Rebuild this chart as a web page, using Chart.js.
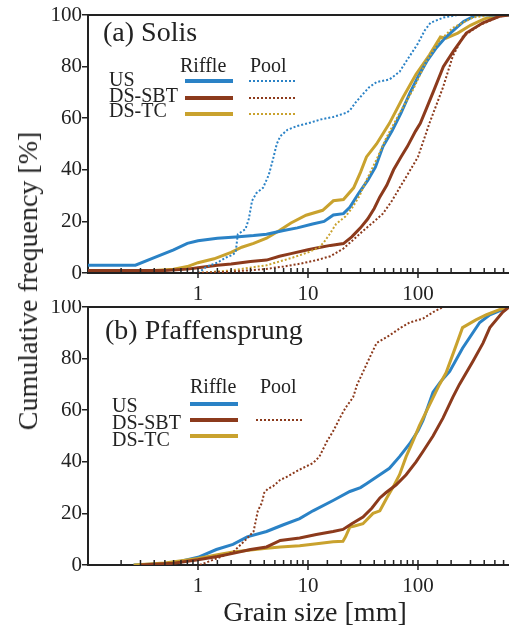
<!DOCTYPE html>
<html><head><meta charset="utf-8">
<script src="https://cdn.jsdelivr.net/npm/chart.js@4"></script>
<style>
html,body{margin:0;padding:0;background:#fff;overflow:hidden}
#wrap{position:relative;width:509px;height:628px}
canvas{position:absolute;left:0}
#ytitle{position:absolute;left:28px;top:281px;font-family:"Liberation Serif",serif;font-size:28px;line-height:1;color:#222;white-space:nowrap;transform:translate(-50%,-50%) rotate(-90deg)}
</style></head><body>
<div id="wrap">
<canvas id="ca" width="509" height="300" style="top:0"></canvas>
<canvas id="cb" width="509" height="328" style="top:300px"></canvas>
<div id="ytitle">Cumulative frequency [%]</div>
</div>
<script>
// ---------- tick labels ----------
const xTickLabels = ['1', '10', '100'];
const yTickLabels = ['0', '20', '40', '60', '80', '100'];
const X_MIN = 0.1, X_MAX = 672;

// ---------- (a) Solis ----------
const solisUSRiffleD = [0.1,0.27,0.4,0.6,0.8,1.0,1.5,2.2,3.2,4.2,6,8,11,14,17,21,24,29,35,41,48,58,70,85,100,120,145,175,210,260,340,672];
const solisUSRiffleP = [3,3,6,9,11.5,12.5,13.5,14,14.5,15,16.5,17.5,19,20,22.5,23,25.5,31,36,41,49,55,62,70,76,82,87,91,94,97.5,100,100];
const solisSBTRiffleD = [0.1,0.5,0.8,1,1.5,2,3,4.2,5.5,7,10,13,16,21,25,30,35,40,45,52,60,70,80,95,105,120,140,170,210,275,390,550,672];
const solisSBTRiffleP = [1,1,1.5,2,3,3.5,4.5,5,6.5,7.5,9,10,10.7,11.4,14,17.5,21,25,29.5,34,40,45,49,55,58,64,71,80,86,93,97,99.5,100];
const solisTCRiffleD = [0.1,0.4,0.6,0.8,1,1.4,2,2.5,3.2,4.2,5.5,7,9.6,13.6,17,21,26,30,34,42,55,73,96,127,160,180,230,300,400,550,672];
const solisTCRiffleP = [1,1,1.5,2.5,4,5.5,8,10,11.5,13.5,16.5,19.4,22.4,24.3,28,28.5,33,39,45,50,58,68,77,84.5,91.5,91,93,96,98.5,100,100];
const solisUSPoolD = [1,1.2,1.5,1.8,2.05,2.2,2.3,2.7,2.9,3.1,3.4,3.9,4.4,4.8,5.2,5.6,6.5,8,10,13,17,22,24,27,31,36,42,55,68,78,90,100,115,130,170,230,672];
const solisUSPoolP = [0,2.5,4,6,7,8,15,17,21,28,31,33,38,44,50,53,55.5,57,58,59.5,60.5,62,63,66,69,72,74,75,78,82,86,89,94,97,99,100,100];
const solisSBTPoolD = [1,2,4,6,8.5,12,16,21,26,32,40,48,58,68,80,100,127,169,207,256,360,550,672];
const solisSBTPoolP = [0,0.5,1.5,2.5,3.6,5,6.5,9.5,13,16.5,20,23,28,33,38,45,58,72,84,91.6,96,99.4,100];
const solisTCPoolD = [1,2,4.2,7.3,10,12.7,14,15.7,18,22,25,29.5,34,42,51,68,90,119,157,207,316,450,672];
const solisTCPoolP = [0,1,3,6,8,10,12,15,19,22,25,30,36,44,52,62,71,82,90,95,99,100,100];

// ---------- (b) Pfaffensprung ----------
const pfaffUSRiffleD = [0.26,0.52,0.7,1,1.47,2.08,2.8,4.2,5.9,8.4,11.1,16.9,24,30,34,45,55,68,84,100,111,127,137,160,194,254,364,450,672];
const pfaffUSRiffleP = [0,0.6,1.5,3,6,8,10.9,13,15.5,18,21,25,28.5,30,31.5,35,37.5,42,47,52,56,63,67,71,75,84,94,97,100];
const pfaffSBTRiffleD = [0.3,0.6,1,1.5,2.08,3,4.2,5.6,8.4,11.9,16.9,20.8,25,31.6,38,45,51,63,78,96,111,137,169,207,238,316,390,450,590,672];
const pfaffSBTRiffleP = [0,0.7,2,3.3,4.5,6,7,9.5,10.5,11.8,13,13.8,16,18.6,22,26,28,31,35,40,44,50,57,65,70,79,86,92,98,100];
const pfaffTCRiffleD = [0.26,0.5,1,1.5,2.08,3,4.2,5.6,8.4,12,16.9,20.8,22,24,26,31.6,39,45,52,59,68,78,90,103,127,157,180,226,254,336,420,550,672];
const pfaffTCRiffleP = [0,0.8,2.5,4,5,5.8,6.5,7,7.5,8.2,9,9.2,11,14.7,15,16,20,21,26,30,35,42,48,54,62,70,74.5,86,92,95,97,99,100];
const pfaffSBTPoolD = [1.04,1.37,2.08,2.75,3.2,3.5,3.8,4.0,4.3,4.8,5.6,6.3,8.4,11.1,12.7,14.9,17,19.5,22,25.7,28,31,36,42,48,55,70,84,111,137,169,672];
const pfaffSBTPoolP = [0,2,5,10,13,21,24,28,29.5,30.5,33,34,37,39.5,42,48,52,57,61,65,70,74,80,86,87.5,89,92,94,95.5,98,100,100];

// ---------- colours ----------
const BLUE = '#2a82c6', BROWN = '#8c3a1c', GOLD = '#c9a22e', INK = '#222';
const FONT = '"Liberation Serif", serif';

function pts(d, p) { return d.map((v, i) => ({ x: v, y: p[i] })); }
function riffle(d, p, c) { return { data: pts(d, p), borderColor: c, borderWidth: 3, pointRadius: 0, fill: false, tension: 0 }; }
function pool(d, p, c) { return { data: pts(d, p), borderColor: c, borderWidth: 2, borderDash: [2, 2], pointRadius: 0, fill: false, tension: 0 }; }
function isDecade(v) { const l = Math.log10(v); return Math.abs(l - Math.round(l)) < 1e-6; }

const deco = {
  id: 'deco',
  afterDatasetsDraw(chart, args, o) {
    const ctx = chart.ctx, a = chart.chartArea, xs = chart.scales.x;
    ctx.save();
    ctx.strokeStyle = INK; ctx.setLineDash([]);
    ctx.lineWidth = 2;
    ctx.beginPath(); ctx.moveTo(a.left, a.top); ctx.lineTo(a.right, a.top); ctx.stroke();
    ctx.lineWidth = 1.5;
    xs.ticks.forEach(t => {
      const v = t.value;
      if (v <= xs.min * 1.0001 || v >= xs.max * 0.9999) return;
      const px = xs.getPixelForValue(v);
      ctx.beginPath();
      if (isDecade(v)) { ctx.moveTo(px, a.bottom - 5); ctx.lineTo(px, a.bottom + 5); }
      else { ctx.moveTo(px, a.bottom); ctx.lineTo(px, a.bottom - 5); }
      ctx.stroke();
    });
    ctx.fillStyle = INK; ctx.textBaseline = 'alphabetic'; ctx.textAlign = 'left';
    ctx.font = '28px ' + FONT;
    ctx.fillText(o.title, o.titleX, o.titleY);
    if (o.xTitle) { ctx.textAlign = 'center'; ctx.fillText(o.xTitle, o.xTitleX, o.xTitleY); ctx.textAlign = 'left'; }
    const L = o.legend;
    ctx.font = '20px ' + FONT;
    ctx.fillText('Riffle', L.riffleTextX, L.headY);
    ctx.fillText('Pool', L.poolTextX, L.headY);
    L.rows.forEach(r => {
      ctx.fillStyle = INK;
      ctx.fillText(r.label, L.labelX, r.ty);
      ctx.strokeStyle = r.color; ctx.lineWidth = 4; ctx.setLineDash([]);
      ctx.beginPath(); ctx.moveTo(L.r0, r.ly); ctx.lineTo(L.r1, r.ly); ctx.stroke();
      if (r.pool) {
        ctx.lineWidth = 2; ctx.setLineDash([2, 2]);
        ctx.beginPath(); ctx.moveTo(L.p0, r.ly); ctx.lineTo(L.p1, r.ly); ctx.stroke();
        ctx.setLineDash([]);
      }
    });
    ctx.restore();
  }
};

function makeOptions(padTop, xHeight, decoOpts) {
  return {
    responsive: false, animation: false, events: [],
    layout: { padding: { top: padTop, right: 0, left: 0, bottom: 0 } },
    plugins: { legend: { display: false }, tooltip: { enabled: false }, deco: decoOpts },
    scales: {
      x: {
        type: 'logarithmic', min: X_MIN, max: X_MAX,
        afterFit(s) { s.height = xHeight; s.paddingLeft = 0; s.paddingRight = 0; },
        grid: { drawOnChartArea: false, drawTicks: false },
        border: { display: true, color: INK, width: 2 },
        ticks: {
          autoSkip: false, maxRotation: 0, minRotation: 0, padding: 9, color: INK,
          font: { family: FONT, size: 21 },
          callback: v => { const s = String(Math.round(v * 1000) / 1000); return isDecade(v) && xTickLabels.includes(s) ? s : ''; }
        }
      },
      y: {
        min: 0, max: 100,
        afterFit(s) { s.width = 88; s.paddingTop = 0; s.paddingBottom = 0; },
        grid: { drawOnChartArea: false, drawTicks: true, tickLength: 6, color: INK, lineWidth: 1.5 },
        border: { display: true, color: INK, width: 2 },
        ticks: {
          stepSize: 10, padding: 0, color: INK, font: { family: FONT, size: 21 },
          callback: v => yTickLabels.includes(String(v)) ? String(v) : ''
        }
      }
    }
  };
}

new Chart(document.getElementById('ca'), {
  type: 'line',
  data: { datasets: [
    pool(solisSBTPoolD, solisSBTPoolP, BROWN),
    pool(solisTCPoolD, solisTCPoolP, GOLD),
    pool(solisUSPoolD, solisUSPoolP, BLUE),
    riffle(solisSBTRiffleD, solisSBTRiffleP, BROWN),
    riffle(solisUSRiffleD, solisUSRiffleP, BLUE),
    riffle(solisTCRiffleD, solisTCRiffleP, GOLD)
  ] },
  options: makeOptions(15, 27, {
    title: '(a) Solis', titleX: 103, titleY: 41,
    legend: { riffleTextX: 180, poolTextX: 250, headY: 72, labelX: 109, r0: 185, r1: 233, p0: 249, p1: 297,
      rows: [
        { label: 'US', color: BLUE, ty: 86, ly: 81, pool: true },
        { label: 'DS-SBT', color: BROWN, ty: 102, ly: 98, pool: true },
        { label: 'DS-TC', color: GOLD, ty: 117, ly: 114, pool: true }
      ] }
  }),
  plugins: [deco]
});

new Chart(document.getElementById('cb'), {
  type: 'line',
  data: { datasets: [
    pool(pfaffSBTPoolD, pfaffSBTPoolP, BROWN),
    riffle(pfaffSBTRiffleD, pfaffSBTRiffleP, BROWN),
    riffle(pfaffTCRiffleD, pfaffTCRiffleP, GOLD),
    riffle(pfaffUSRiffleD, pfaffUSRiffleP, BLUE)
  ] },
  options: makeOptions(7, 63, {
    title: '(b) Pfaffensprung', titleX: 105, titleY: 39,
    xTitle: 'Grain size [mm]', xTitleX: 315, xTitleY: 321,
    legend: { riffleTextX: 190, poolTextX: 260, headY: 93, labelX: 112, r0: 190, r1: 238, p0: 256, p1: 303,
      rows: [
        { label: 'US', color: BLUE, ty: 112, ly: 104, pool: false },
        { label: 'DS-SBT', color: BROWN, ty: 129, ly: 120, pool: true },
        { label: 'DS-TC', color: GOLD, ty: 146, ly: 136, pool: false }
      ] }
  }),
  plugins: [deco]
});
</script>
</body></html>
